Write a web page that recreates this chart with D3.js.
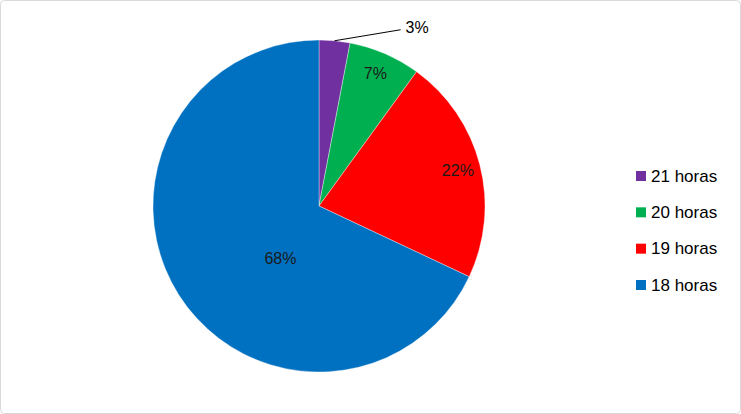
<!DOCTYPE html>
<html><head><meta charset="utf-8">
<script src="https://cdn.jsdelivr.net/npm/d3@7"></script>
<style>
html,body{margin:0;padding:0;background:#fff;}
svg{display:block;font-family:"Liberation Sans",Arial,sans-serif;}
</style></head>
<body>
<svg id="c" width="741" height="414"></svg>
<script>
const categories = ["21 horas", "20 horas", "19 horas", "18 horas"];
const values = [3, 7, 22, 68];
const colors = ["#7030A0", "#00B050", "#FF0000", "#0070C0"];

const svg = d3.select("#c");
svg.append("rect").attr("x",0.5).attr("y",0.5).attr("width",740).attr("height",413)
  .attr("rx",4).attr("fill","#fff").attr("stroke","#d9d9d9");

const cx = 319, cy = 206, r = 166;
const g = svg.append("g").attr("transform",`translate(${cx},${cy})`);
const data = categories.map((c,i)=>({cat:c, v:values[i], col:colors[i]}));
const pie = d3.pie().value(d=>d.v).sort(null);
const arcs = pie(data);
const arc = d3.arc().innerRadius(0).outerRadius(r);

g.selectAll("path").data(arcs).join("path")
  .attr("d", arc).attr("fill", d=>d.data.col)
  .attr("stroke","#fff").attr("stroke-width",0.6).attr("stroke-opacity",0.6);

const total = d3.sum(values);
const fmt = v => Math.round(v/total*100) + "%";

arcs.forEach((d,i)=>{
  const mid = (d.startAngle+d.endAngle)/2;
  if (d.data.v/total < 0.05) {
    const p0 = [Math.sin(mid)*r, -Math.cos(mid)*r];
    const p1 = [p0[0]+66, p0[1]-11];
    g.append("line").attr("x1",p0[0]).attr("y1",p0[1]).attr("x2",p1[0]).attr("y2",p1[1])
      .attr("stroke","#000").attr("stroke-width",1);
    g.append("text").attr("x",p1[0]+5).attr("y",p1[1]+3)
      .attr("font-size",16).attr("fill","#000").text(fmt(d.data.v));
  } else {
    let ang = mid, rad = r*0.87;
    if (d.data.v/total > 0.5) { ang = Math.PI + 0.62; rad = r*0.39; }
    const x = Math.sin(ang)*rad, y = -Math.cos(ang)*rad;
    g.append("text").attr("x",x - 1).attr("y",y).attr("text-anchor","middle")
      .attr("dominant-baseline","central")
      .attr("font-size",16).attr("fill","#1a1a1a").text(fmt(d.data.v));
  }
});

const leg = svg.append("g").attr("transform","translate(636,176)");
const ly = d3.scalePoint().domain(categories).range([0,109]);
const item = leg.selectAll("g").data(data).join("g")
  .attr("transform", d=>`translate(0,${ly(d.cat)})`);
item.append("rect").attr("x",0).attr("y",-5).attr("width",10).attr("height",10).attr("fill",d=>d.col);
item.append("text").attr("x",15).attr("y",0).attr("dominant-baseline","central")
  .attr("font-size",17).attr("fill","#000").text(d=>d.cat);
</script>
</body></html>
